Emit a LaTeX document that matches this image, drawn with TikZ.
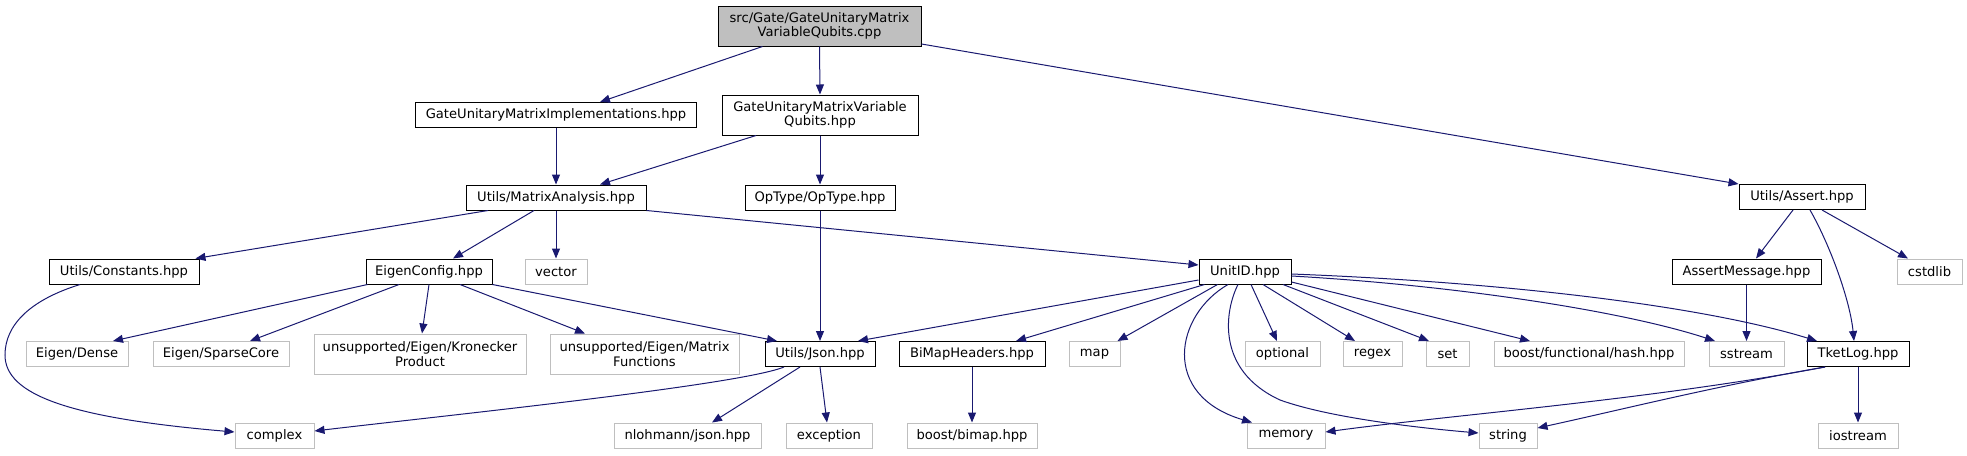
\documentclass[tikz,border=0pt]{standalone}
\usepackage{fontspec}
\setmainfont{DejaVu Sans}
\usetikzlibrary{arrows.meta}
\definecolor{edgeblue}{HTML}{191970}
\definecolor{sysgray}{HTML}{BFBFBF}
\definecolor{rootgray}{HTML}{BFBFBF}
\begin{document}
\begin{tikzpicture}[x=1pt,y=-1pt,
  box/.style={rectangle, inner sep=0pt, align=center, font=\fontsize{13.1}{14.4}\selectfont, minimum height=25pt, line width=1pt},
  docbox/.style={box, draw=black, fill=white},
  sysbox/.style={box, draw=sysgray, fill=white},
  rootbox/.style={box, draw=black, fill=rootgray},
  twoline/.style={minimum height=40pt},
  conn/.style={draw=edgeblue, line width=1pt, -{Triangle[length=10pt,width=8pt]}}]
\useasboundingbox (0,0) rectangle (1967,455);

% nodes
\node[rootbox,twoline,minimum width=203pt] (nroot) at (819.5,26) {src/Gate/GateUnitaryMatrix\\VariableQubits.cpp};
\node[docbox,minimum width=281pt] (ngimpl) at (556,115) {GateUnitaryMatrixImplementations.hpp};
\node[docbox,twoline,minimum width=196pt] (ngvq) at (820,115) {GateUnitaryMatrixVariable\\Qubits.hpp};
\node[docbox,minimum width=180pt] (nma) at (556,197.5) {Utils/MatrixAnalysis.hpp};
\node[docbox,minimum width=150pt] (nop) at (820,197.5) {OpType/OpType.hpp};
\node[docbox,minimum width=126pt] (nassert) at (1802,197) {Utils/Assert.hpp};
\node[docbox,minimum width=150pt] (ncons) at (124,271.5) {Utils/Constants.hpp};
\node[docbox,minimum width=126pt] (neigen) at (429,271.5) {EigenConfig.hpp};
\node[sysbox,minimum width=62pt] (nvector) at (556,271.5) {vector};
\node[docbox,minimum width=92pt] (nuid) at (1245,271.5) {UnitID.hpp};
\node[docbox,minimum width=149pt] (namsg) at (1746.5,271.5) {AssertMessage.hpp};
\node[sysbox,minimum width=65pt] (ncstd) at (1929.5,271.5) {cstdlib};
\node[sysbox,minimum width=102pt] (ndense) at (77,354) {Eigen/Dense};
\node[sysbox,minimum width=136pt] (nsparse) at (221,354) {Eigen/SparseCore};
\node[sysbox,twoline,minimum width=212pt] (nkron) at (420,354) {unsupported/Eigen/Kronecker\\Product};
\node[sysbox,twoline,minimum width=189pt] (nmfunc) at (644.5,354) {unsupported/Eigen/Matrix\\Functions};
\node[docbox,minimum width=110pt] (njson) at (820,354) {Utils/Json.hpp};
\node[docbox,minimum width=146pt] (nbmh) at (972,354) {BiMapHeaders.hpp};
\node[sysbox,minimum width=51pt] (nmap) at (1094.5,354) {map};
\node[sysbox,minimum width=75pt] (nopt) at (1282.5,354) {optional};
\node[sysbox,minimum width=59pt] (nregex) at (1372.5,354) {regex};
\node[sysbox,minimum width=43pt] (nset) at (1447.5,354) {set};
\node[sysbox,minimum width=190pt] (nhash) at (1589,354) {boost/functional/hash.hpp};
\node[sysbox,minimum width=75pt] (nsst) at (1746.5,354) {sstream};
\node[docbox,minimum width=102pt] (ntket) at (1858,354) {TketLog.hpp};
\node[sysbox,minimum width=79pt] (ncplx) at (274.5,435.5) {complex};
\node[sysbox,minimum width=147pt] (nnloh) at (687.5,435.5) {nlohmann/json.hpp};
\node[sysbox,minimum width=86pt] (nexc) at (829,435.5) {exception};
\node[sysbox,minimum width=130pt] (nbimap) at (972,435.5) {boost/bimap.hpp};
\node[sysbox,minimum width=78pt] (nmem) at (1286,435.5) {memory};
\node[sysbox,minimum width=58pt] (nstr) at (1508,435.5) {string};
\node[sysbox,minimum width=80pt] (nios) at (1858,435.5) {iostream};

% edges from root
\draw[conn] ([xshift=-57pt]nroot.south) -- ([xshift=44pt]ngimpl.north);
\draw[conn] (nroot.south) -- (ngvq.north);
\draw[conn] ([yshift=-18pt]nroot.east) -- (nassert.north west);
\draw[conn] (ngimpl.south) -- (nma.north);
\draw[conn] ([xshift=-64pt]ngvq.south) -- ([xshift=44pt]nma.north);
\draw[conn] (ngvq.south) -- (nop.north);
\draw[conn] (nop.south) -- (njson.north);

% MatrixAnalysis
\draw[conn] ([xshift=-68pt]nma.south) -- ([xshift=-4pt]ncons.north east);
\draw[conn] ([xshift=-22pt]nma.south) -- ([xshift=24pt]neigen.north);
\draw[conn] (nma.south) -- (nvector.north);
\draw[conn] (nma.south east) -- ([yshift=6.5pt]nuid.west);

% Assert
\draw[conn] ([xshift=-9pt]nassert.south) -- ([xshift=9.5pt]namsg.north);
\draw[conn] ([xshift=8pt]nassert.south) .. controls (1830,245) and (1850,300) .. ([xshift=-4pt]ntket.north);
\draw[conn] ([xshift=20pt]nassert.south) -- ([xshift=-21.5pt]ncstd.north);
\draw[conn] (namsg.south) -- (nsst.north);

% Constants
\draw[conn] ([xshift=-44pt]ncons.south) .. controls (30,300) and (5,325) .. (5,355)
  .. controls (5,395) and (70,418) .. ([yshift=3.5pt]ncplx.west);

% EigenConfig
\draw[conn] ([xshift=2pt]neigen.south west) -- ([xshift=36pt]ndense.north);
\draw[conn] ([xshift=-30pt]neigen.south) -- ([xshift=29pt]nsparse.north);
\draw[conn] (neigen.south) -- ([xshift=2pt]nkron.north);
\draw[conn] ([xshift=31pt]neigen.south) -- ([xshift=-59.5pt]nmfunc.north);
\draw[conn] (neigen.south east) -- ([xshift=-43pt]njson.north);

% Json
\draw[conn] ([xshift=-36pt]njson.south) .. controls (740,385) and (450,415) .. ([yshift=4.5pt]ncplx.east);
\draw[conn] ([xshift=-20pt]njson.south) -- ([xshift=24.5pt]nnloh.north);
\draw[conn] (njson.south) -- ([xshift=-2pt]nexc.north);

% BiMapHeaders
\draw[conn] (nbmh.south) -- (nbimap.north);

% UnitID
\draw[conn] ([yshift=-8.5pt]nuid.west) -- ([xshift=38pt]njson.north);
\draw[conn] ([xshift=6pt]nuid.south west) -- ([xshift=44pt]nbmh.north);
\draw[conn] ([xshift=19pt]nuid.south west) -- ([xshift=-3pt]nmap.north east);
\draw[conn] ([xshift=-17pt]nuid.south) .. controls (1175,315) and (1160,395) .. ([xshift=-34pt]nmem.north);
\draw[conn] ([xshift=-7pt]nuid.south) .. controls (1225,310) and (1215,370) .. (1280,400)
  .. controls (1330,418) and (1420,428) .. ([yshift=2.5pt]nstr.west);
\draw[conn] ([xshift=6pt]nuid.south) -- ([xshift=-5.5pt]nopt.north);
\draw[conn] ([xshift=18pt]nuid.south) -- ([xshift=-17.5pt]nregex.north);
\draw[conn] ([xshift=38pt]nuid.south) -- ([xshift=-18.5pt]nset.north);
\draw[conn] ([yshift=-10.5pt]nuid.east) -- ([xshift=-59pt]nhash.north);
\draw[conn] ([yshift=-4.5pt]nuid.east) .. controls (1450,285) and (1620,310) .. ([xshift=-31.5pt]nsst.north);
\draw[conn] ([yshift=-2.5pt]nuid.east) .. controls (1500,282) and (1700,305) .. ([xshift=-41pt]ntket.north);

% TketLog
\draw[conn] ([xshift=-33pt]ntket.south) .. controls (1650,400) and (1450,415) .. ([yshift=3.5pt]nmem.east);
\draw[conn] ([xshift=-33pt]ntket.south) .. controls (1720,385) and (1620,410) .. ([yshift=7.5pt]nstr.east);
\draw[conn] (ntket.south) -- (nios.north);
\end{tikzpicture}
\end{document}
